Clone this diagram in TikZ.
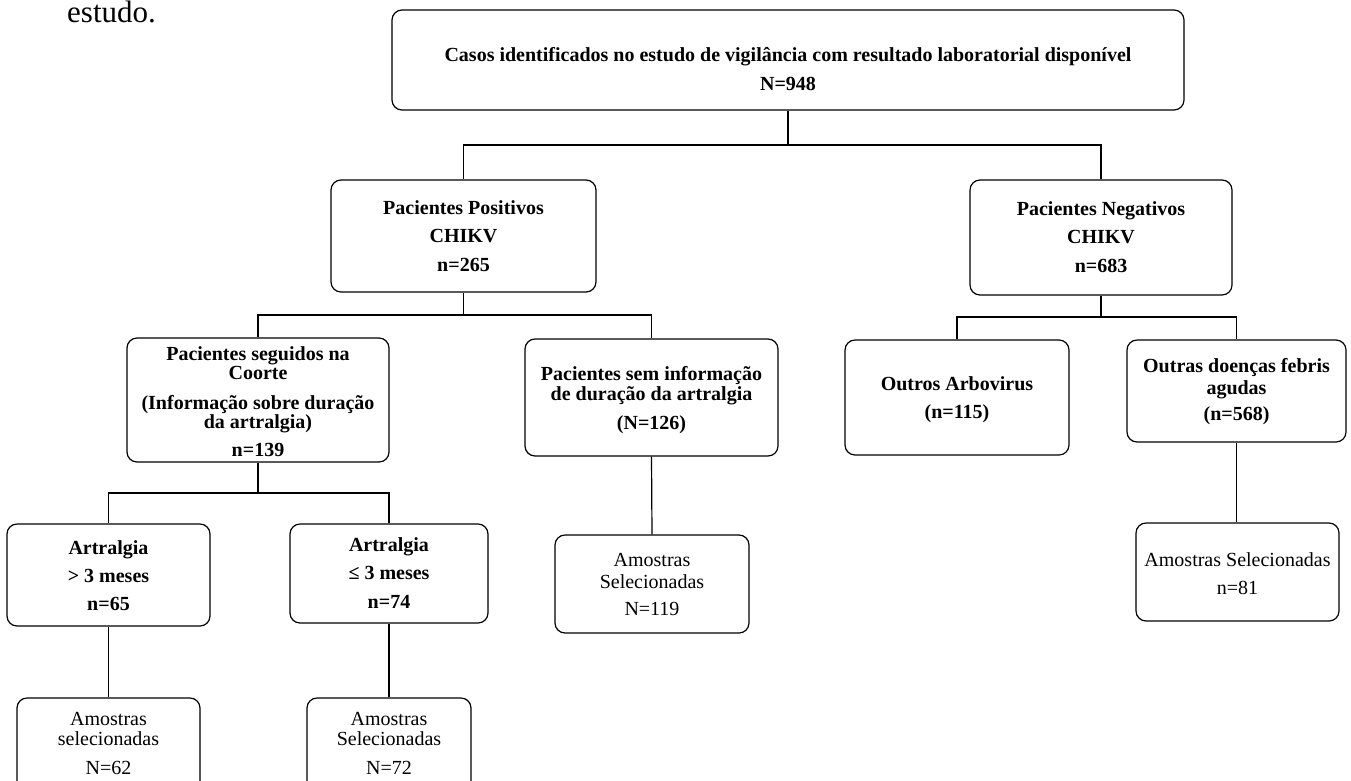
\documentclass[tikz,border=0pt]{standalone}
\usepackage{fontspec}
\setmainfont{Liberation Serif}
\begin{document}
\begin{tikzpicture}[x=1pt,y=-1pt,
  box/.style={draw, line width=1.2pt, rounded corners=10pt, inner sep=0pt},
  btxt/.style={font=\fontsize{20}{20}\selectfont\bfseries, align=center, inner sep=0pt, anchor=north},
  rtxt/.style={font=\fontsize{20}{20}\selectfont, align=center, inner sep=0pt, anchor=north},
  link/.style={line width=1.2pt}]
\useasboundingbox (0,0) rectangle (1351,780);
\clip (0,0) rectangle (1351,780);

% caption fragment
\node[font=\fontsize{31}{31}\selectfont, anchor=base west, inner sep=0pt] (cap) at (67,22) {estudo.};

% boxes
\node[box, minimum width=792pt, minimum height=100pt] (top) at (788,60) {};
\node[box, minimum width=265pt, minimum height=112pt] (pos) at (463.5,236) {};
\node[box, minimum width=262pt, minimum height=115pt] (neg) at (1101,237.5) {};
\node[box, minimum width=262pt, minimum height=124pt] (seg) at (258,400) {};
\node[box, minimum width=253pt, minimum height=117pt] (sem) at (651.5,397.5) {};
\node[box, minimum width=224pt, minimum height=115pt] (outros) at (957,397.5) {};
\node[box, minimum width=219pt, minimum height=102pt] (outras) at (1236.5,391) {};
\node[box, minimum width=203pt, minimum height=102pt] (art1) at (108.5,575) {};
\node[box, minimum width=198pt, minimum height=99pt] (art2) at (389,573.5) {};
\node[box, minimum width=183pt, minimum height=102pt] (am1) at (108.5,749) {};
\node[box, minimum width=164pt, minimum height=102pt] (am2) at (389,749) {};
\node[box, minimum width=194pt, minimum height=98pt] (am119) at (652,584) {};
\node[box, minimum width=203pt, minimum height=98pt] (am81) at (1237.5,572) {};

% texts
\node[btxt] (ttop) at (788,47) {\strut Casos identificados no estudo de vigilância com resultado laboratorial disponível\\[9pt]N=948};
\node[btxt] (tpos) at (463.5,200) {\strut Pacientes Positivos\\[8.5pt]CHIKV\\[8.5pt]n=265};
\node[btxt] (tneg) at (1101,201) {\strut Pacientes Negativos\\[8.5pt]CHIKV\\[8.5pt]n=683};
\node[btxt] (tseg) at (258,346) {\strut Pacientes seguidos na\\[-1pt]Coorte\\[10pt](Informação sobre duração\\[-1pt]da artralgia)\\[8pt]n=139};
\node[btxt] (tsem) at (651.5,366) {\strut Pacientes sem informação\\de duração da artralgia\\[9pt](N=126)};
\node[btxt] (toutros) at (957,376) {\strut Outros Arbovirus\\[8pt](n=115)};
\node[btxt] (toutras) at (1236.5,358) {\strut Outras doenças febris\\[2pt]agudas\\[6pt](n=568)};
\node[btxt] (tart1) at (108.5,540) {\strut Artralgia\\[8pt]> 3 meses\\[8.5pt]n=65};
\node[btxt] (tart2) at (389,537) {\strut Artralgia\\[8.5pt]≤ 3 meses\\[8.5pt]n=74};
\node[rtxt] (tam1) at (108.5,711) {\strut Amostras\\selecionadas\\[9pt]N=62};
\node[rtxt] (tam2) at (389,711) {\strut Amostras\\Selecionadas\\[9pt]N=72};
\node[rtxt] (tam119) at (652,552) {\strut Amostras\\[2pt]Selecionadas\\[7pt]N=119};
\node[rtxt] (tam81) at (1237.5,552) {\strut Amostras Selecionadas\\[8pt]n=81};

% connectors
\coordinate (j0) at (788,145);
\coordinate (j1) at (463.5,315);
\coordinate (j2) at (1101,317);
\coordinate (j3) at (258,493);
\draw[link] (top.south) -- (j0);
\draw[link] (j0) -| (pos.north);
\draw[link] (j0) -| (neg.north);
\draw[link] (pos.south) -- (j1);
\draw[link] (j1) -| (seg.north);
\draw[link] (j1) -| (sem.north);
\draw[link] (neg.south) -- (j2);
\draw[link] (j2) -| (outros.north);
\draw[link] (j2) -| (outras.north);
\draw[link] (seg.south) -- (j3);
\draw[link] (j3) -| (art1.north);
\draw[link] (j3) -| (art2.north);
\draw[link] (art1.south) -- (am1.north);
\draw[link] (art2.south) -- (am2.north);
\draw[link] (sem.south) -- (am119.north);
\draw[link] (outras.south) -- (outras.south |- am81.north);
\end{tikzpicture}
\end{document}
